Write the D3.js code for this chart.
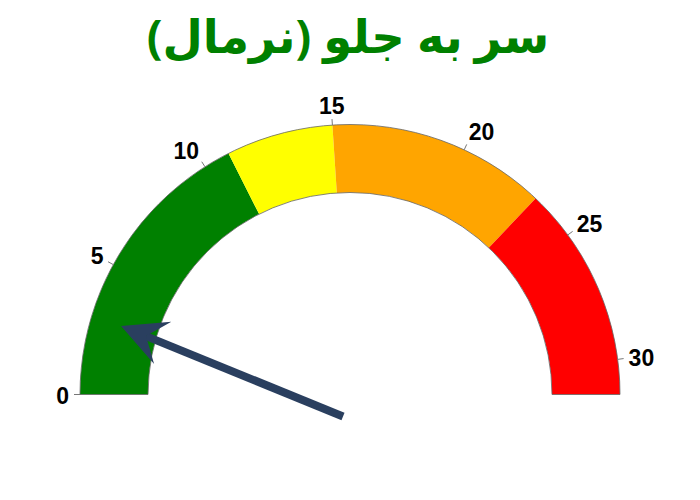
<!DOCTYPE html>
<html>
<head>
<meta charset="utf-8">
<script src="https://cdn.jsdelivr.net/npm/d3@7"></script>
<style>
  html, body { margin: 0; padding: 0; background: #fff; }
  svg { display: block; }
</style>
</head>
<body>
<svg id="chart" width="700" height="500"></svg>
<script>
// ---- data ----
const title = "سر به جلو (نرمال)";
const axisMin = 0;
const axisMax = 31.3;
const tickValues = [0, 5, 10, 15, 20, 25, 30];
const bandStarts = [0, 11, 15, 23.2];
const bandEnds = [11, 15, 23.2, 31.3];
const bandColors = ["#008000", "#ffff00", "#ffa500", "#ff0000"];
const needleValue = 2.9;

// ---- layout ----
const W = 700, H = 500;
const cx = 350, cy = 394.5;
const rOuter = 270, rInner = 202;
const tickLen = 6;
const svg = d3.select("#chart");

const angle = d3.scaleLinear().domain([axisMin, axisMax]).range([-Math.PI / 2, Math.PI / 2]);
const polar = (v, r) => {
  const a = angle(v);
  return [cx + r * Math.sin(a), cy - r * Math.cos(a)];
};

// title
svg.append("text")
  .attr("x", 348).attr("y", 53)
  .attr("text-anchor", "middle")
  .attr("font-family", "'Open Sans', 'DejaVu Sans', sans-serif")
  .attr("font-weight", "bold")
  .attr("font-size", 46.5)
  .attr("fill", "#008000")
  .attr("direction", "rtl")
  .text(title);

const g = svg.append("g").attr("transform", `translate(${cx},${cy})`);
const arc = d3.arc().innerRadius(rInner).outerRadius(rOuter);

const bands = bandStarts.map((s, i) => ({ s, e: bandEnds[i], c: bandColors[i] }));
g.selectAll("path.band").data(bands).enter().append("path")
  .attr("class", "band")
  .attr("d", d => arc({ startAngle: angle(d.s), endAngle: angle(d.e) }))
  .attr("fill", d => d.c);

// outline
g.append("path")
  .attr("d", arc({ startAngle: angle(axisMin), endAngle: angle(axisMax) }))
  .attr("fill", "none")
  .attr("stroke", "#666")
  .attr("stroke-width", 0.8);

// ticks + labels
tickValues.forEach(v => {
  const p1 = polar(v, rOuter);
  const p2 = polar(v, rOuter + tickLen);
  svg.append("line")
    .attr("x1", p1[0]).attr("y1", p1[1])
    .attr("x2", p2[0]).attr("y2", p2[1])
    .attr("stroke", "#777").attr("stroke-width", 1);
  const a = angle(v);
  const cosT = Math.sin(a);   // horizontal component
  const sinT = Math.cos(a);   // vertical (up) component
  const p = polar(v, rOuter + tickLen + 5);
  const anchor = Math.abs(cosT) < 0.1 ? "middle" : (cosT > 0 ? "start" : "end");
  svg.append("text")
    .attr("x", p[0]).attr("y", p[1] - sinT * 10 + 1.5)
    .attr("text-anchor", anchor)
    .attr("dominant-baseline", "central")
    .attr("font-family", "Liberation Sans, Arial, sans-serif")
    .attr("font-weight", "bold")
    .attr("font-size", 23)
    .attr("fill", "#000")
    .text(v);
});

// needle
const tip = polar(needleValue, 239);
const tail = [cx - 7, cy + 22];
const dx = tail[0] - tip[0], dy = tail[1] - tip[1];
const len = Math.hypot(dx, dy);
const ux = dx / len, uy = dy / len;       // tip -> tail
const vx = -uy, vy = ux;                  // perpendicular
const pt = (a, p) => [tip[0] + ux * a + vx * p, tip[1] + uy * a + vy * p];
const needleColor = "#2a3f5f";

const notch = pt(27, 0);
svg.append("line")
  .attr("x1", notch[0]).attr("y1", notch[1])
  .attr("x2", tail[0]).attr("y2", tail[1])
  .attr("stroke", needleColor).attr("stroke-width", 8);

const head = [pt(0, 0), pt(45, -22.8), notch, pt(45, 22.8)];
svg.append("path")
  .attr("d", d3.line()(head) + "Z")
  .attr("fill", needleColor);
</script>
</body>
</html>
